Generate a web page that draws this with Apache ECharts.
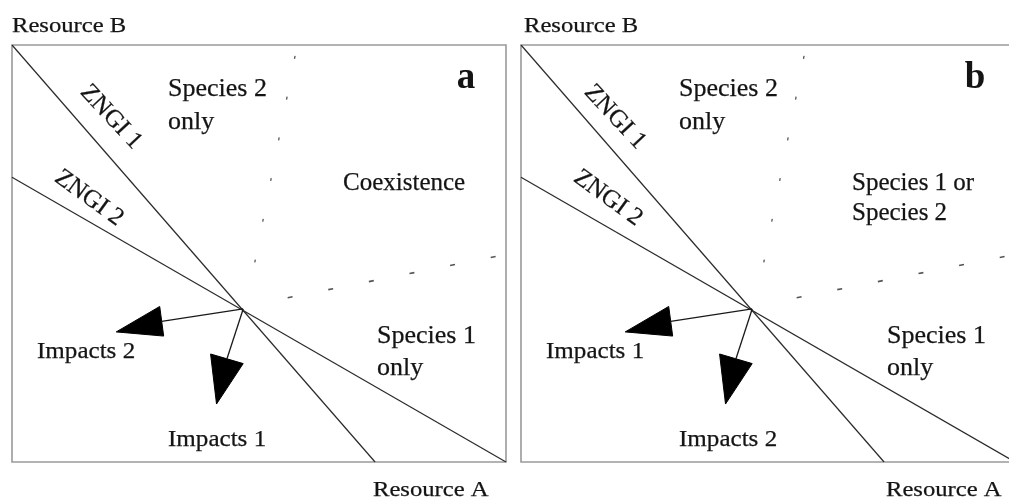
<!DOCTYPE html>
<html>
<head>
<meta charset="utf-8">
<script src="https://cdn.jsdelivr.net/npm/echarts@6/dist/echarts.min.js"></script>
<style>
  html, body { margin: 0; padding: 0; background: #fff; }
  #chart { width: 1009px; height: 504px; }
</style>
</head>
<body>
<div id="chart"></div>
<script>
// both panels share the same geometry, axes run 0..100 inside each box
var zngi1 = [[0, 100], [73.5, 0]];
var zngi2 = [[0, 68.3], [100, 0]];
var equilibrium = [46.8, 36.7];
var impactLeftEnd = [30.3, 33.7];
var impactDownEnd = [43.5, 24.7];
// arrow heads: tip, base corner, base corner
var headLeft = [21.1, 31.2, 29.9, 37.3, 30.7, 30.2];
var headDown = [41.4, 13.9, 40.2, 25.9, 46.8, 23.6];
// dotted boundaries (first dash, last dash)
var dashUp = [[57.3, 97.4], [49.0, 47.0]];
var dashRight = [[55.8, 39.4], [98.0, 49.3]];

// texts of each panel
var panelLetters = ['a', 'b'];
var leftImpactText = ['Impacts 2', 'Impacts 1'];
var downImpactText = ['Impacts 1', 'Impacts 2'];
var upperRightText = ['Coexistence', 'Species 1 or\nSpecies 2'];

var FONT = '"Liberation Serif", "DejaVu Serif", serif';
var INK = '#141414';

var chart = echarts.init(document.getElementById('chart'));

var grids = [
    { left: 12, top: 45, width: 494, height: 417 },
    { left: 521, top: 45, width: 494, height: 417 }
];

function panelSeries(i) {
    var axes = { xAxisIndex: i, yAxisIndex: i };
    var thin = { color: '#2a2a2a', width: 1.2 };
    var list = [];
    function seg(data, style) {
        list.push(Object.assign({
            type: 'line',
            data: data,
            symbol: 'none',
            silent: true,
            animation: false,
            lineStyle: style
        }, axes));
    }
    seg(zngi1, thin);
    seg(zngi2, thin);
    seg([equilibrium, impactLeftEnd], { color: '#1a1a1a', width: 1.3 });
    seg([equilibrium, impactDownEnd], { color: '#1a1a1a', width: 1.3 });
    seg(dashUp, { color: '#555', width: 1.3, type: [3, 38.5] });
    seg(dashRight, { color: '#555', width: 1.6, type: [5, 36.4] });
    list.push(Object.assign({
        type: 'custom',
        silent: true,
        animation: false,
        data: [headLeft, headDown],
        renderItem: function (params, api) {
            var pts = [];
            for (var k = 0; k < 3; k++) {
                pts.push(api.coord([api.value(k * 2), api.value(k * 2 + 1)]));
            }
            return { type: 'polygon', shape: { points: pts }, style: { fill: '#000', stroke: '#000', lineWidth: 1 } };
        }
    }, axes));
    return list;
}

function txt(x, y, text, opt) {
    opt = opt || {};
    return {
        type: 'text',
        x: x,
        y: y,
        rotation: opt.rotation || 0,
        scaleX: opt.scaleX || 1,
        silent: true,
        style: {
            text: text,
            font: (opt.bold ? 'bold ' : '') + (opt.size || 25) + 'px ' + FONT,
            fill: INK,
            stroke: opt.bold ? null : INK,
            lineWidth: opt.bold ? 0 : 0.25,
            textAlign: opt.align || 'left',
            textVerticalAlign: 'middle',
            lineHeight: opt.lineHeight || 32
        }
    };
}

function panelTexts(i) {
    var dx = i === 0 ? 0 : 509;
    var out = [
        txt(12 + dx + (i ? 3 : 0), 26, 'Resource B', { size: 22, scaleX: 1.12 }),
        txt(373 + dx + (i ? 4 : 0), 490, 'Resource A', { size: 22, scaleX: 1.12 }),
        txt(466 + dx, 78, panelLetters[i], { size: 37, bold: true, align: 'center' }),
        txt(168 + dx + (i ? 2 : 0), 106, 'Species 2\nonly', { size: 26, lineHeight: 33 }),
        txt(377 + dx + (i ? 1 : 0), 352, 'Species 1\nonly', { size: 26, lineHeight: 32 }),
        txt(37 + dx, 352, leftImpactText[i], { size: 23, scaleX: 1.09 }),
        txt(168 + dx + (i ? 2 : 0), 440, downImpactText[i], { size: 23, scaleX: 1.09 }),
        txt(111 + dx + (i ? -5 : 0), 117, 'ZNGI 1', { size: 25, align: 'center', rotation: -47 * Math.PI / 180 }),
        txt(89 + dx + (i ? 10 : 0), 198, 'ZNGI 2', { size: 25, align: 'center', rotation: -36 * Math.PI / 180 })
    ];
    if (i === 0) {
        out.push(txt(343, 183, upperRightText[0], { size: 25 }));
    } else {
        out.push(txt(852, 198, upperRightText[1], { size: 25, lineHeight: 30 }));
    }
    return out;
}

var xAxes = [], yAxes = [];
for (var g = 0; g < 2; g++) {
    xAxes.push({ gridIndex: g, type: 'value', min: 0, max: 100, show: false });
    yAxes.push({ gridIndex: g, type: 'value', min: 0, max: 100, show: false });
}

chart.setOption({
    backgroundColor: '#fff',
    animation: false,
    grid: grids.map(function (gr) {
        return Object.assign({
            show: true,
            outerBoundsMode: 'none',
            containLabel: false,
            borderColor: '#9a9a9a',
            borderWidth: 1.6,
            backgroundColor: 'transparent'
        }, gr);
    }),
    xAxis: xAxes,
    yAxis: yAxes,
    series: panelSeries(0).concat(panelSeries(1)),
    graphic: panelTexts(0).concat(panelTexts(1))
});
</script>
</body>
</html>
